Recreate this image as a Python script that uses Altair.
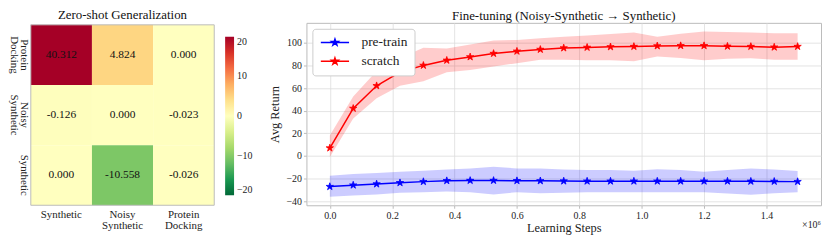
import altair as alt
import pandas as pd

FONT = "Liberation Serif"

# ---------------- heatmap data ----------------
row_labels = ["Protein Docking", "Noisy Synthetic", "Synthetic"]
col_labels = ["Synthetic", "Noisy Synthetic", "Protein Docking"]
heat_values = [
    [40.312, 4.824, 0.000],
    [-0.126, 0.000, -0.023],
    [0.000, -10.558, -0.026],
]
cbar_ticks = [-20, -10, 0, 10, 20]
cmap_domain = [-20, -16, -12, -8, -4, 0, 4, 8, 12, 16, 20]
cmap_colors = ["#006837", "#1a9850", "#66bd63", "#a6d96a", "#d9ef8b", "#ffffbf",
               "#fee08b", "#fdae61", "#f46d43", "#d73027", "#a50026"]

# ---------------- fine-tuning data ----------------
steps = [0.0, 0.075, 0.15, 0.225, 0.3, 0.375, 0.45, 0.525, 0.6, 0.675, 0.75,
         0.825, 0.9, 0.975, 1.05, 1.125, 1.2, 1.275, 1.35, 1.425, 1.5]
pretrain_mean = [-27.1, -25.8, -24.8, -23.7, -22.7, -21.9, -21.7, -21.7, -21.9, -22.0, -22.2,
                 -22.3, -22.3, -22.3, -22.3, -22.3, -22.3, -22.3, -22.4, -22.5, -22.7]
pretrain_upper = [-17.5, -16.0, -15.0, -14.0, -13.0, -12.0, -11.0, -9.5, -11.0, -11.0, -12.0,
                  -12.5, -12.5, -13.0, -11.8, -12.5, -14.0, -12.5, -11.2, -12.0, -13.4]
pretrain_lower = [-36.0, -35.0, -34.0, -32.5, -32.0, -31.5, -32.0, -34.0, -32.0, -33.0, -32.5,
                  -32.0, -32.0, -32.0, -32.0, -32.0, -32.0, -33.3, -34.3, -33.0, -32.0]
scratch_mean = [7.0, 42.0, 62.0, 74.0, 80.0, 84.5, 87.5, 90.5, 92.5, 94.1, 95.4,
                95.9, 96.4, 96.7, 97.2, 97.4, 97.4, 96.9, 96.7, 96.1, 96.7]
scratch_upper = [18.0, 52.5, 75.0, 86.5, 95.5, 95.0, 98.5, 102.0, 102.5, 104.0, 105.4,
                 106.5, 107.8, 109.0, 105.4, 108.0, 110.0, 109.6, 109.0, 108.5, 108.5]
scratch_lower = [-1.0, 33.0, 51.0, 62.0, 66.0, 74.0, 76.0, 79.0, 82.0, 85.0, 85.0,
                 84.6, 84.6, 83.7, 87.9, 86.6, 84.5, 85.8, 86.4, 85.0, 85.0]
series_names = ["pre-train", "scratch"]
series_colors = ["#0000ff", "#ff0000"]
y_ticks = [-40, -20, 0, 20, 40, 60, 80, 100]
x_ticks = [0.0, 0.2, 0.4, 0.6, 0.8, 1.0, 1.2, 1.4]

# ---------------- build tables ----------------
heat_rows = []
for r, rl in enumerate(row_labels):
    for c, cl in enumerate(col_labels):
        v = heat_values[r][c]
        heat_rows.append({"row": rl, "col": cl, "value": v, "label": f"{v:.3f}"})
heat_df = pd.DataFrame(heat_rows)

line_rows = []
for name, m, lo, hi in [("pre-train", pretrain_mean, pretrain_lower, pretrain_upper),
                        ("scratch", scratch_mean, scratch_lower, scratch_upper)]:
    for s, a, b, c in zip(steps, m, lo, hi):
        line_rows.append({"series": name, "step": s, "mean": a, "lower": b, "upper": c})
line_df = pd.DataFrame(line_rows)

HW = 185      # heatmap width
HTOP = 2      # heatmap top inside its group
HH = 182      # heatmap height
LW = 519      # line plot width
LH = 184      # line plot height

# ---------------- heatmap ----------------
heat_base = alt.Chart(heat_df).encode(
    x=alt.X("col:N", sort=col_labels,
            axis=alt.Axis(title=None, labelAngle=0, labelExpr="split(datum.label, ' ')",
                          ticks=False, domain=False, labelPadding=3, labelFontSize=11,
                          labelLineHeight=11, labelFont=FONT, labelColor="#222")),
    y=alt.Y("row:N", sort=row_labels, scale=alt.Scale(range=[HTOP, HTOP + HH]),
            axis=alt.Axis(title=None, labelAngle=90, labelAlign="center", labelBaseline="top",
                          labelExpr="split(datum.label, ' ')", ticks=False, domain=False,
                          labelPadding=1, labelFontSize=11, labelLineHeight=10.5,
                          labelFont=FONT, labelColor="#222")),
)
heat_rect = heat_base.mark_rect().encode(
    color=alt.Color("value:Q",
                    scale=alt.Scale(domain=cmap_domain, range=cmap_colors, clamp=True,
                                    interpolate="rgb"),
                    legend=alt.Legend(title=None, orient="none", legendX=196, legendY=HTOP + 12,
                                      direction="vertical", gradientLength=160,
                                      gradientThickness=9, values=cbar_ticks,
                                      labelExpr="replace(datum.label, '-', '−')",
                                      labelFontSize=10, labelFont=FONT, labelColor="#222",
                                      gradientStrokeWidth=0, labelOffset=3))
)
heat_text = heat_base.mark_text(font=FONT, fontSize=11.5, color="#111").encode(text="label:N")
frame_df = pd.DataFrame({"f": [0]})
heat_frame = alt.Chart(frame_df).mark_rect(filled=False, stroke="#bbbbbb", strokeWidth=1).encode(
    x=alt.value(0), x2=alt.value(HW), y=alt.value(HTOP), y2=alt.value(HTOP + HH))
heat = alt.layer(heat_rect, heat_text, heat_frame).properties(
    width=HW, height=HTOP + HH,
    view=alt.ViewConfig(stroke=None),
    title=alt.TitleParams("Zero-shot Generalization", offset=1),
)

# ---------------- line chart ----------------
STAR = ("M0,-1L0.2245,-0.309L0.9511,-0.309L0.3633,0.118L0.5878,0.809L0,0.382"
        "L-0.5878,0.809L-0.3633,0.118L-0.9511,-0.309L-0.2245,-0.309Z")
STAR_LINE = "M-4.2,0L4.2,0" + STAR

cscale = alt.Scale(domain=series_names, range=series_colors)
xenc = alt.X("step:Q", scale=alt.Scale(domain=[-0.075, 1.575], nice=False, zero=False),
             axis=alt.Axis(title="Learning Steps", values=x_ticks, format=".1f",
                           titlePadding=1, labelOverlap=False))
yscale = alt.Scale(domain=[-43.6, 117.6], nice=False, zero=False)
yaxis = alt.Axis(title="Avg Return", values=y_ticks, labelOverlap=False,
                 labelExpr="replace(datum.label, '-', '−')", titlePadding=5)
legend = alt.Legend(title=None, orient="top-left", offset=6, symbolType=STAR_LINE,
                    symbolSize=46, symbolStrokeWidth=1.5, labelFontSize=13.5, labelFont=FONT,
                    labelColor="#222", fillColor="white", strokeColor="#cccccc",
                    cornerRadius=3, padding=7, rowPadding=4, labelOffset=20,
                    symbolOffset=9)

points = alt.Chart(line_df).mark_point(shape=STAR, size=60, filled=True, opacity=1,
                                       strokeWidth=0.8).encode(
    x=xenc, y=alt.Y("mean:Q", scale=yscale, axis=yaxis),
    color=alt.Color("series:N", scale=cscale, legend=legend),
    stroke=alt.Stroke("series:N", scale=cscale, legend=legend),
)
lines = alt.Chart(line_df).mark_line(strokeWidth=1.5).encode(
    x=xenc, y=alt.Y("mean:Q", scale=yscale, axis=yaxis),
    stroke=alt.Stroke("series:N", scale=cscale, legend=legend),
)
band = alt.Chart(line_df).mark_area(opacity=0.2).encode(
    x=xenc,
    y=alt.Y("lower:Q", scale=yscale, axis=yaxis),
    y2="upper:Q",
    fill=alt.Fill("series:N", scale=cscale, legend=None),
)
exp_df = pd.DataFrame({"t": ["×10⁶"]})
exp_text = alt.Chart(exp_df).mark_text(font=FONT, fontSize=10, align="right",
                                       baseline="middle", color="#222").encode(
    text="t:N", x=alt.value(LW), y=alt.value(LH + 20))

line = alt.layer(points, lines, band, exp_text).properties(
    width=LW, height=LH,
    title=alt.TitleParams("Fine-tuning (Noisy-Synthetic → Synthetic)", offset=0),
)

chart = alt.hconcat(heat, line, spacing=14).resolve_scale(
    color="independent", stroke="independent", fill="independent"
).resolve_legend(
    color="independent", stroke="independent", fill="independent"
).configure(
    padding={"left": 0, "top": 0, "right": 0, "bottom": 0}
).configure_view(
    stroke="#bbbbbb", strokeWidth=1
).configure_axis(
    labelFont=FONT, titleFont=FONT, labelFontSize=10, titleFontSize=12.5,
    titleFontWeight="normal", labelColor="#222", titleColor="#222",
    gridColor="#dddddd", gridWidth=0.8, domain=False, tickColor="#bbbbbb", tickSize=3,
    labelPadding=2
).configure_title(
    font=FONT, fontSize=13, fontWeight="normal", color="#111", anchor="middle"
)

chart.save("out.html", embed_options={"renderer": "svg", "actions": False})
